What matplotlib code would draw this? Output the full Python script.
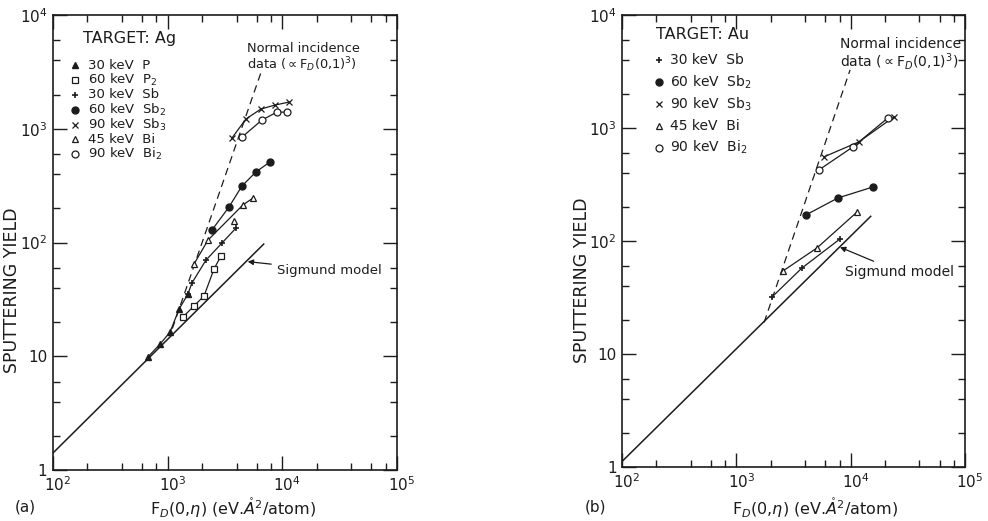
import math
import matplotlib as mpl
mpl.use('Agg')
from matplotlib import pyplot as plt
from matplotlib.ticker import LogLocator, FuncFormatter, NullFormatter
from matplotlib.transforms import ScaledTranslation

plt.rcParams['font.family'] = ['DejaVu Sans']
plt.rcParams['mathtext.fontset'] = 'dejavusans'

INK = '#1c1c1c'

# ---- (a) target Ag ----
ag_sigmund_f = [100, 6900]
ag_sigmund_y = [1.41, 97]
ag_normal_f = [1100, 6650]
ag_normal_y = [17.5, 3300]

ag_p_f = [670, 860, 1050, 1260, 1500]
ag_p_y = [9.8, 12.8, 16.3, 26, 35]
ag_p2_f = [1360, 1700, 2080, 2540, 2920]
ag_p2_y = [22.1, 27.7, 33.9, 58.5, 76]
ag_sb_f = [1500, 1630, 2160, 2980, 3950]
ag_sb_y = [35, 44, 70, 99, 134]
ag_sb2_f = [2440, 3430, 4450, 5890, 7800]
ag_sb2_y = [129, 205, 314, 417, 511]
ag_sb3_f = [3640, 4820, 6520, 8640, 11430]
ag_sb3_y = [829, 1219, 1494, 1619, 1718]
ag_bi_f = [1700, 2250, 4540, 5550]
ag_bi_y = [64.7, 105, 214, 246]
ag_bi_extra_f = [3780]
ag_bi_extra_y = [155]
ag_bi2_f = [4450, 6650, 8980, 10990]
ag_bi2_y = [845, 1194, 1403, 1403]

# ---- (b) target Au ----
au_sigmund_f = [100, 15000]
au_sigmund_y = [1.12, 165]
au_normal_f = [1750, 9900]
au_normal_y = [19, 3260]

au_sb_f = [2052, 3758, 8070]
au_sb_y = [31.9, 57.7, 104]
au_sb2_f = [4075, 7762, 15700]
au_sb2_y = [170, 240, 300]
au_sb3_f = [5850, 11830, 23990]
au_sb3_y = [554, 752, 1251]
au_bi_f = [2566, 5080, 11380]
au_bi_y = [54.3, 86.7, 180]
au_bi2_f = [5290, 10490, 21230]
au_bi2_y = [425, 679, 1225]

ag_keys = ['P', 'P2', 'Sb', 'Sb2', 'Sb3', 'Bi', 'Bi2']
au_keys = ['Sb', 'Sb2', 'Sb3', 'Bi', 'Bi2']

styles = {
    'P': dict(marker='^', ms=4.5, mfc=INK, mec=INK),
    'P2': dict(marker='s', ms=5, mfc='white', mec=INK, mew=0.9),
    'Sb': dict(marker='+', ms=4, mfc=INK, mec=INK, mew=1.2),
    'Sb2': dict(marker='o', ms=5, mfc=INK, mec=INK),
    'Sb3': dict(marker='x', ms=5, mfc=INK, mec=INK, mew=0.9),
    'Bi': dict(marker='^', ms=5, mfc='white', mec=INK, mew=0.9),
    'Bi2': dict(marker='o', ms=5, mfc='white', mec=INK, mew=0.9),
}
labels = {
    'P': '30 keV  P',
    'P2': '60 keV  P$_2$',
    'Sb': '30 keV  Sb',
    'Sb2': '60 keV  Sb$_2$',
    'Sb3': '90 keV  Sb$_3$',
    'Bi': '45 keV  Bi',
    'Bi2': '90 keV  Bi$_2$',
}


def yfmt(v, pos):
    e = int(round(math.log10(v)))
    if e == 0:
        return '1'
    if e == 1:
        return '10'
    return '$10^{%d}$' % e


def setup_axes(ax, ylab_xy, xlab_xy):
    ax.set_xscale('log')
    ax.set_yscale('log')
    ax.set_xlim(100, 1e5)
    ax.set_ylim(1, 1e4)
    ax.xaxis.set_major_locator(LogLocator(base=10, numticks=10))
    ax.xaxis.set_minor_locator(LogLocator(base=10, subs=(2, 4, 6, 8), numticks=10))
    ax.yaxis.set_major_locator(LogLocator(base=10, numticks=10))
    ax.yaxis.set_minor_locator(LogLocator(base=10, subs=(2, 4, 6), numticks=10))
    ax.yaxis.set_major_formatter(FuncFormatter(yfmt))
    ax.xaxis.set_minor_formatter(NullFormatter())
    ax.yaxis.set_minor_formatter(NullFormatter())
    ax.tick_params(which='both', direction='in', top=True, right=True,
                   color=INK, width=1.0, labelsize=11, labelcolor=INK)
    ax.tick_params(which='major', length=10)
    ax.tick_params(which='minor', length=5)
    ax.tick_params(axis='x', which='major', pad=3.5)
    ax.tick_params(axis='y', which='major', pad=4)
    # nudge the decade labels on x a little to the right
    shift = ScaledTranslation(5 / 100, 0, ax.figure.dpi_scale_trans)
    for lab in ax.get_xticklabels():
        lab.set_transform(lab.get_transform() + shift)
    for s in ax.spines.values():
        s.set_linewidth(1.2)
        s.set_color(INK)
    ax.set_ylabel('SPUTTERING YIELD', fontsize=12.5, color=INK,
                  ha='center', va='center')
    ax.yaxis.set_label_coords(*ylab_xy)
    ax.set_xlabel(r'F$_D$(0,$\eta$) (eV.$\mathring{A}^2$/atom)', fontsize=11.5,
                  color=INK, ha='center', va='center')
    ax.xaxis.set_label_coords(*xlab_xy)


def series(ax, f, y, key, line=True):
    ax.plot(f, y, '-' if line else 'none', color=INK, lw=0.9, **styles[key])


def key_list(ax, keys, x_mark, x_text, y0, step, size):
    for i, k in enumerate(keys):
        yy = y0 - i * step
        ax.plot([x_mark], [yy], ls='none', color=INK, transform=ax.transAxes,
                clip_on=False, **styles[k])
        ax.text(x_text, yy, labels[k], transform=ax.transAxes, fontsize=size,
                color=INK, va='center', ha='left')


fig = plt.figure(figsize=(9.88, 5.21), dpi=100)
ax1 = fig.add_axes([0.0536, 0.0979, 0.348, 0.873])
ax2 = fig.add_axes([0.6296, 0.1036, 0.347, 0.868])

# panel (a)
ax1.plot(ag_sigmund_f, ag_sigmund_y, '-', color=INK, lw=1.1)
ax1.plot(ag_normal_f, ag_normal_y, '--', color=INK, lw=0.9, dashes=(6, 4))
series(ax1, ag_p_f, ag_p_y, 'P')
series(ax1, ag_p2_f, ag_p2_y, 'P2')
series(ax1, ag_sb_f, ag_sb_y, 'Sb')
series(ax1, ag_sb2_f, ag_sb2_y, 'Sb2')
series(ax1, ag_sb3_f, ag_sb3_y, 'Sb3')
series(ax1, ag_bi_f, ag_bi_y, 'Bi')
series(ax1, ag_bi_extra_f, ag_bi_extra_y, 'Bi', line=False)
series(ax1, ag_bi2_f, ag_bi2_y, 'Bi2')
setup_axes(ax1, (-0.119, 0.396), (0.523, -0.083))

ax1.text(0.087, 0.949, 'TARGET: Ag', transform=ax1.transAxes, fontsize=11.5,
         color=INK, va='center', ha='left')
key_list(ax1, ag_keys, 0.064, 0.102, 0.890, 0.0326, 9.5)
ax1.text(0.564, 0.941, 'Normal incidence\ndata ($\\propto$F$_D$(0,1)$^3$)',
         transform=ax1.transAxes, fontsize=9.3, color=INK, va='top', ha='left',
         linespacing=1.0)
ax1.annotate('Sigmund model', xy=(5000, 68), xytext=(8970, 57), fontsize=9.5,
             color=INK, va='center', ha='left',
             arrowprops=dict(arrowstyle='-|>', color=INK, lw=0.9,
                             shrinkA=2, shrinkB=0, mutation_scale=8))

# panel (b)
ax2.plot(au_sigmund_f, au_sigmund_y, '-', color=INK, lw=1.1)
ax2.plot(au_normal_f, au_normal_y, '--', color=INK, lw=0.9, dashes=(6, 4))
series(ax2, au_sb_f, au_sb_y, 'Sb')
series(ax2, au_sb2_f, au_sb2_y, 'Sb2')
series(ax2, au_sb3_f, au_sb3_y, 'Sb3')
series(ax2, au_bi_f, au_bi_y, 'Bi')
series(ax2, au_bi2_f, au_bi2_y, 'Bi2')
setup_axes(ax2, (-0.116, 0.414), (0.563, -0.090))

ax2.text(0.099, 0.956, 'TARGET: Au', transform=ax2.transAxes, fontsize=11.5,
         color=INK, va='center', ha='left')
key_list(ax2, au_keys, 0.108, 0.140, 0.900, 0.0485, 10)
ax2.text(0.636, 0.951, 'Normal incidence\ndata ($\\propto$F$_D$(0,1)$^3$)',
         transform=ax2.transAxes, fontsize=10, color=INK, va='top', ha='left',
         linespacing=1.0)
ax2.annotate('Sigmund model', xy=(8070, 88), xytext=(8940, 53), fontsize=10,
             color=INK, va='center', ha='left',
             arrowprops=dict(arrowstyle='-|>', color=INK, lw=0.9,
                             shrinkA=2, shrinkB=0, mutation_scale=8))

fig.text(0.015, 0.027, '(a)', fontsize=11, color=INK, va='center')
fig.text(0.592, 0.027, '(b)', fontsize=11, color=INK, va='center')

fig.savefig('out.png', dpi=100, facecolor='white')
